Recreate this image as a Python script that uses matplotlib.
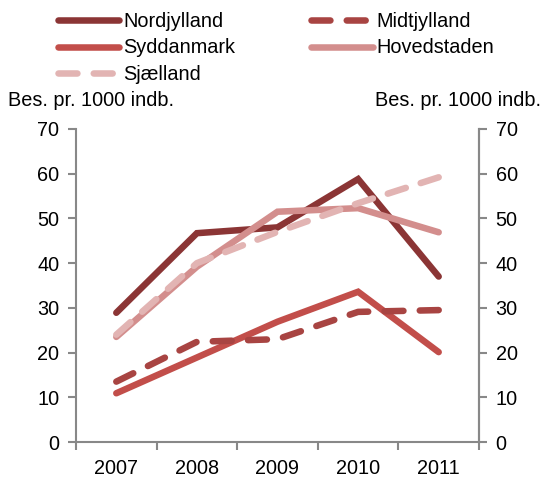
import matplotlib
matplotlib.use("Agg")
import matplotlib.pyplot as plt
import numpy as np

years = ["2007", "2008", "2009", "2010", "2011"]
nordjylland = [28.9, 46.7, 48.0, 58.8, 37.0]
midtjylland = [13.5, 22.4, 23.0, 29.1, 29.5]
syddanmark = [10.9, 18.9, 26.9, 33.6, 20.1]
hovedstaden = [23.5, 39.2, 51.5, 52.3, 46.9]
sjaelland = [24.0, 40.0, 47.0, 53.4, 59.2]
yticks = [0, 10, 20, 30, 40, 50, 60, 70]
ylabel = "Bes. pr. 1000 indb."

plt.rcParams['font.family'] = ['Liberation Sans', 'DejaVu Sans']
FS = 14.3
DPI = 100
fig = plt.figure(figsize=(5.45, 4.86), dpi=DPI)
ax = fig.add_axes([76/545, 1-442/486, (479-76)/545, (442-129)/486])
ax.set_xlim(-0.5, 4.5)
ax.set_ylim(0, 70)

lw = 4.7
ON, OFF = 2.9, 2.5
x = list(range(len(years)))
series = [
    ("Nordjylland", nordjylland, "#8B3535", "-"),
    ("Syddanmark", syddanmark, "#C24E4A", "-"),
    ("Sjælland", sjaelland, "#E2B4B3", "--"),
    ("Midtjylland", midtjylland, "#A84442", "--"),
    ("Hovedstaden", hovedstaden, "#D38E8D", "-"),
]
draw_order = ["Syddanmark", "Midtjylland", "Nordjylland", "Hovedstaden", "Sjælland"]


def fitted_dashes(xs, ys):
    pts = ax.transData.transform(np.column_stack([xs, ys]))
    L = np.sum(np.hypot(*np.diff(pts, axis=0).T)) * 72 / DPI / lw
    n = max(2, int(round((L + OFF) / (ON + OFF))))
    off = (L - n * ON) / (n - 1)
    return (ON, off)


handles = {}
for name, vals, col, ls in series:
    kw = dict(color=col, lw=lw, solid_capstyle='round', solid_joinstyle='miter', label=name)
    if ls == "--":
        kw.update(dashes=fitted_dashes(x, vals), dash_capstyle='round')
    (h,) = ax.plot(x, vals, zorder=3 + draw_order.index(name), **kw)
    handles[name] = h

ax.set_yticks(yticks)
ax.set_xticks(x)
ax.set_xticklabels(years, fontsize=FS)
ax.set_xticks([i - 0.5 for i in range(len(years) + 1)], minor=True)
ax.tick_params(axis='x', which='major', length=0, pad=12)
ax.tick_params(axis='x', which='minor', length=6, width=1.5, color='#888888')
ax.tick_params(axis='y', length=6, width=1.5, color='#888888', labelsize=FS, pad=6)

gray = '#888888'
for s in ['left', 'bottom', 'right']:
    ax.spines[s].set_color(gray)
    ax.spines[s].set_linewidth(1.5)
ax.spines['top'].set_visible(False)

ax2 = ax.twinx()
ax2.set_ylim(0, 70)
ax2.set_yticks(yticks)
ax2.tick_params(axis='y', length=6, width=1.5, color=gray, labelsize=FS, pad=6)
for s in ['left', 'bottom', 'top']:
    ax2.spines[s].set_visible(False)
ax2.spines['right'].set_color(gray)
ax2.spines['right'].set_linewidth(1.5)

fig.text(8/545, 1-101/486, ylabel, fontsize=FS, ha='left', va='center')
fig.text(541/545, 1-101/486, ylabel, fontsize=FS, ha='right', va='center')

order = ["Nordjylland", "Syddanmark", "Sjælland", "Midtjylland", "Hovedstaden"]
leg_handles = []
for n in order:
    h = handles[n]
    lh = plt.Line2D([], [], color=h.get_color(), lw=lw, solid_capstyle='round', dash_capstyle='round')
    if n in ("Sjælland", "Midtjylland"):
        lh.set_dashes((ON, OFF))
    leg_handles.append(lh)
leg = fig.legend(leg_handles, order, ncol=2, loc='upper left',
                 bbox_to_anchor=(46/545, 1.0), frameon=False, fontsize=FS,
                 handlelength=3.1, handletextpad=0.2, columnspacing=3.8,
                 labelspacing=0.38, borderaxespad=0.2)

fig.savefig("out.png", dpi=DPI)
